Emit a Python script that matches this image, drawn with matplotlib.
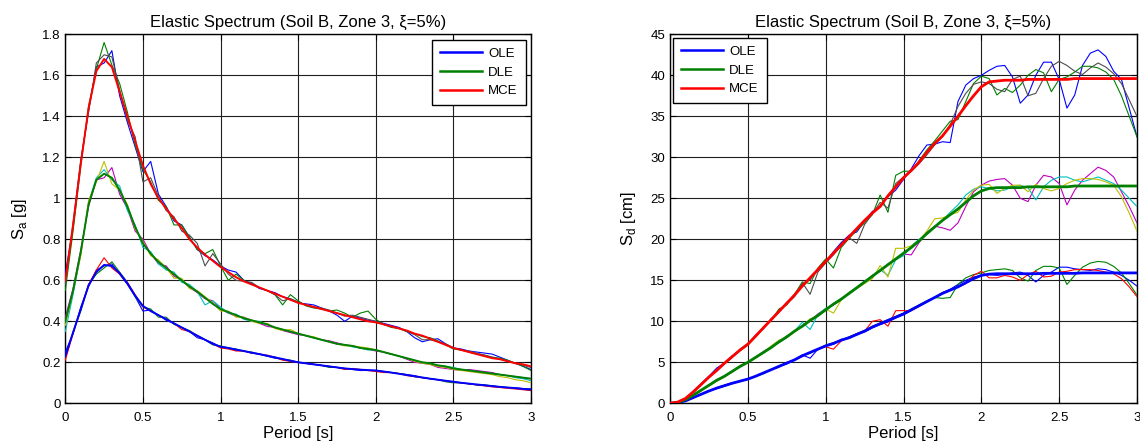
import numpy as np
import matplotlib
matplotlib.use("Agg")
import matplotlib.pyplot as plt
from matplotlib.ticker import FuncFormatter
from matplotlib.lines import Line2D

plt.rcParams['font.family'] = ['Liberation Sans', 'DejaVu Sans']

# ---------------- data ----------------
period = np.linspace(0.0, 3.0, 61)

# Spectral acceleration Sa [g] - target spectra
sa_ole = [0.23,0.345,0.46,0.575,0.64,0.675,0.67,0.635,0.585,0.525,
          0.475,0.45,0.43,0.41,0.39,0.37,0.35,0.33,0.31,0.29,
          0.276,0.27,0.262,0.255,0.247,0.24,0.232,0.224,0.216,0.208,
          0.20,0.195,0.19,0.185,0.18,0.175,0.17,0.167,0.164,0.162,
          0.16,0.155,0.15,0.144,0.138,0.132,0.126,0.12,0.115,0.11,
          0.105,0.10,0.096,0.092,0.088,0.084,0.08,0.077,0.074,0.07,
          0.067]
sa_dle = [0.40,0.55,0.74,0.97,1.09,1.12,1.10,1.04,0.96,0.86,
          0.78,0.73,0.69,0.66,0.63,0.60,0.57,0.545,0.515,0.485,
          0.46,0.445,0.43,0.415,0.405,0.395,0.385,0.37,0.36,0.35,
          0.34,0.33,0.32,0.31,0.30,0.29,0.285,0.28,0.27,0.265,
          0.26,0.25,0.24,0.23,0.22,0.21,0.20,0.195,0.185,0.18,
          0.17,0.165,0.16,0.155,0.15,0.145,0.14,0.135,0.13,0.125,
          0.12]
sa_mce = [0.60,0.87,1.17,1.44,1.62,1.68,1.64,1.52,1.40,1.28,
          1.16,1.07,1.00,0.95,0.90,0.855,0.80,0.76,0.725,0.695,
          0.665,0.64,0.615,0.595,0.58,0.565,0.55,0.535,0.52,0.505,
          0.49,0.48,0.47,0.46,0.45,0.44,0.43,0.42,0.41,0.40,
          0.395,0.385,0.375,0.365,0.355,0.34,0.33,0.315,0.30,0.285,
          0.27,0.26,0.25,0.24,0.23,0.22,0.215,0.205,0.195,0.19,
          0.18]

# Sa records - MCE level
sa_mce_rec1 = [0.63,0.86,1.18,1.43,1.64,1.66,1.72,1.50,1.37,1.25,
               1.13,1.18,1.02,0.96,0.89,0.87,0.81,0.75,0.72,0.70,
               0.67,0.65,0.64,0.60,0.585,0.56,0.55,0.54,0.52,0.51,
               0.49,0.485,0.48,0.465,0.45,0.43,0.40,0.425,0.415,0.405,
               0.40,0.39,0.38,0.37,0.35,0.32,0.30,0.31,0.315,0.29,
               0.27,0.265,0.255,0.25,0.245,0.24,0.225,0.21,0.195,0.18,
               0.165]
sa_mce_rec2 = [0.55,0.84,1.16,1.45,1.63,1.76,1.65,1.56,1.42,1.26,
               1.14,1.08,0.99,0.96,0.87,0.87,0.81,0.75,0.73,0.75,
               0.67,0.60,0.63,0.60,0.58,0.565,0.55,0.53,0.48,0.53,
               0.50,0.475,0.465,0.46,0.45,0.455,0.44,0.42,0.44,0.45,
               0.41,0.385,0.37,0.365,0.35,0.34,0.325,0.32,0.305,0.285,
               0.265,0.26,0.25,0.24,0.235,0.225,0.22,0.21,0.195,0.18,
               0.16]
sa_mce_rec3 = [0.58,0.88,1.19,1.42,1.66,1.70,1.69,1.53,1.38,1.30,
               1.08,1.10,1.01,0.94,0.91,0.84,0.82,0.78,0.67,0.73,
               0.68,0.63,0.60,0.595,0.59,0.565,0.55,0.53,0.50,0.51,
               0.495,0.48,0.47,0.465,0.455,0.44,0.425,0.43,0.42,0.41,
               0.40,0.385,0.375,0.365,0.35,0.335,0.31,0.31,0.30,0.29,
               0.27,0.26,0.255,0.245,0.235,0.225,0.215,0.205,0.195,0.185,
               0.175]
# Sa records - DLE level
sa_dle_rec1 = [0.42,0.56,0.75,0.96,1.09,1.10,1.15,1.02,0.95,0.84,
               0.80,0.73,0.68,0.67,0.62,0.60,0.565,0.54,0.51,0.50,
               0.46,0.44,0.425,0.42,0.405,0.39,0.375,0.37,0.355,0.345,
               0.335,0.33,0.32,0.31,0.305,0.295,0.285,0.28,0.27,0.265,
               0.255,0.25,0.24,0.23,0.215,0.20,0.195,0.19,0.175,0.17,
               0.165,0.16,0.165,0.16,0.155,0.15,0.14,0.135,0.13,0.125,
               0.12]
sa_dle_rec2 = [0.35,0.53,0.73,0.98,1.10,1.14,1.09,1.06,0.94,0.87,
               0.76,0.74,0.68,0.65,0.64,0.59,0.58,0.545,0.48,0.50,
               0.47,0.44,0.435,0.41,0.40,0.40,0.385,0.37,0.36,0.35,
               0.34,0.33,0.32,0.31,0.30,0.29,0.285,0.275,0.27,0.26,
               0.26,0.25,0.24,0.23,0.22,0.21,0.195,0.195,0.185,0.18,
               0.175,0.165,0.16,0.155,0.15,0.145,0.14,0.135,0.125,0.12,
               0.11]
sa_dle_rec3 = [0.38,0.55,0.72,0.99,1.08,1.18,1.07,1.04,0.97,0.85,
               0.79,0.72,0.70,0.66,0.61,0.61,0.56,0.55,0.52,0.49,
               0.45,0.45,0.42,0.42,0.40,0.39,0.39,0.365,0.355,0.36,
               0.34,0.33,0.325,0.31,0.30,0.29,0.28,0.28,0.275,0.27,
               0.26,0.25,0.24,0.23,0.22,0.205,0.195,0.19,0.18,0.175,
               0.165,0.16,0.155,0.15,0.145,0.14,0.13,0.125,0.115,0.11,
               0.10]
# Sa records - OLE level
sa_ole_rec1 = [0.25,0.34,0.47,0.57,0.65,0.67,0.68,0.63,0.58,0.52,
               0.45,0.455,0.43,0.405,0.39,0.37,0.35,0.32,0.31,0.295,
               0.275,0.27,0.26,0.255,0.245,0.24,0.23,0.22,0.215,0.205,
               0.20,0.195,0.19,0.185,0.18,0.175,0.17,0.165,0.16,0.16,
               0.16,0.155,0.15,0.145,0.14,0.135,0.125,0.12,0.115,0.11,
               0.105,0.10,0.095,0.09,0.088,0.085,0.08,0.077,0.075,0.072,
               0.07]
sa_ole_rec2 = [0.22,0.35,0.45,0.58,0.63,0.66,0.69,0.64,0.59,0.52,
               0.47,0.46,0.42,0.42,0.385,0.37,0.355,0.33,0.31,0.285,
               0.28,0.27,0.265,0.255,0.25,0.24,0.23,0.225,0.215,0.21,
               0.20,0.195,0.19,0.185,0.175,0.175,0.17,0.165,0.165,0.16,
               0.16,0.155,0.15,0.145,0.14,0.13,0.125,0.12,0.115,0.105,
               0.10,0.10,0.095,0.09,0.09,0.085,0.08,0.077,0.074,0.07,
               0.068]
sa_ole_rec3 = [0.21,0.34,0.46,0.58,0.65,0.71,0.66,0.63,0.59,0.53,
               0.47,0.45,0.43,0.41,0.39,0.36,0.35,0.33,0.31,0.29,
               0.27,0.265,0.255,0.255,0.245,0.24,0.235,0.225,0.21,0.205,
               0.20,0.195,0.19,0.185,0.18,0.175,0.165,0.17,0.165,0.16,
               0.155,0.15,0.15,0.145,0.135,0.13,0.125,0.12,0.115,0.11,
               0.105,0.10,0.095,0.09,0.085,0.08,0.077,0.073,0.07,0.066,
               0.062]

# Spectral displacement Sd [cm] - target spectra
sd_ole = [0.0,0.05,0.3,0.7,1.1,1.5,1.85,2.15,2.45,2.7,
          2.95,3.3,3.7,4.1,4.5,4.9,5.3,5.8,6.2,6.6,
          7.0,7.3,7.7,8.0,8.4,8.8,9.3,9.7,10.1,10.5,
          10.9,11.4,11.9,12.4,12.9,13.4,13.8,14.2,14.7,15.2,
          15.6,15.75,15.8,15.8,15.8,15.8,15.8,15.8,15.85,15.85,
          15.85,15.85,15.85,15.9,15.9,15.9,15.9,15.9,15.9,15.9,
          15.9]
sd_dle = [0.0,0.1,0.45,1.0,1.6,2.2,2.8,3.3,3.9,4.5,
          5.0,5.6,6.2,6.8,7.5,8.1,8.8,9.4,10.1,10.7,
          11.4,12.1,12.7,13.4,14.1,14.8,15.5,16.2,16.9,17.6,
          18.3,19.0,19.8,20.7,21.5,22.3,23.0,23.7,24.5,25.3,
          25.9,26.2,26.3,26.3,26.3,26.3,26.4,26.4,26.4,26.4,
          26.4,26.4,26.5,26.5,26.5,26.5,26.5,26.5,26.5,26.5,
          26.5]
sd_mce = [0.0,0.15,0.6,1.4,2.3,3.2,4.0,4.9,5.7,6.5,
          7.2,8.2,9.2,10.2,11.2,12.2,13.2,14.3,15.3,16.3,
          17.3,18.3,19.3,20.3,21.3,22.3,23.2,24.0,25.3,26.4,
          27.5,28.4,29.4,30.6,31.7,32.6,33.8,35.0,36.3,37.5,
          38.6,39.2,39.3,39.4,39.4,39.4,39.5,39.5,39.5,39.5,
          39.5,39.5,39.6,39.6,39.6,39.6,39.6,39.6,39.6,39.6,
          39.6]

# Sd records - MCE level
sd_mce_rec1 = [0.0,0.15,0.6,1.5,2.4,3.3,4.3,4.9,5.8,6.5,
               7.2,8.3,9.1,10.3,11.1,12.3,13.1,14.5,15.1,16.4,
               17.2,18.5,19.6,20.5,20.9,22.2,23.4,24.0,25.2,26.0,
               27.3,28.6,30.2,31.5,31.6,31.9,31.8,36.8,38.8,39.6,
               40.0,40.6,41.1,41.2,39.8,36.6,37.6,40.0,41.6,41.6,
               39.5,36.0,37.6,41.2,42.7,43.1,42.3,40.5,39.5,36.0,
               32.5]
sd_mce_rec2 = [0.0,0.1,0.6,1.4,2.3,3.2,4.1,4.8,5.6,6.6,
               7.3,8.1,9.3,10.1,11.5,12.0,13.3,14.8,14.6,16.5,
               17.6,16.5,19.0,20.1,21.1,22.0,23.0,25.4,23.3,27.8,
               28.3,28.3,29.6,30.9,32.0,33.2,34.4,34.6,36.8,39.0,
               39.9,39.6,37.6,38.4,37.9,38.8,40.0,40.7,40.3,38.0,
               39.5,39.8,40.4,41.1,41.1,40.9,40.4,39.5,37.5,35.0,
               32.5]
sd_mce_rec3 = [0.0,0.1,0.5,1.3,2.2,3.1,4.0,4.8,5.6,6.4,
               7.1,8.1,9.2,10.2,11.3,12.1,13.0,14.7,13.3,16.0,
               17.1,18.1,19.2,20.2,19.5,21.8,23.1,24.5,23.8,26.8,
               27.6,28.3,29.2,30.3,31.5,32.5,34.0,36.2,37.8,38.9,
               39.2,39.0,38.3,38.0,39.5,39.9,37.5,37.8,39.6,41.1,
               41.7,41.2,40.5,40.1,40.9,41.5,41.0,40.2,39.0,37.0,
               35.0]
# Sd records - DLE level
sd_dle_rec1 = [0.0,0.1,0.5,1.0,1.6,2.2,2.9,3.3,3.8,4.5,
               5.0,5.6,6.3,6.9,7.4,8.2,8.7,9.5,10.0,10.9,
               11.5,12.0,12.6,13.5,14.0,14.7,15.6,16.1,17.0,17.5,
               18.2,18.1,19.6,20.8,21.6,21.4,21.1,22.0,24.0,25.8,
               26.6,27.1,27.3,27.4,26.6,25.0,24.6,26.6,27.8,27.6,
               26.8,24.2,26.0,27.2,28.0,28.8,28.4,27.6,25.8,24.0,
               22.0]
sd_dle_rec2 = [0.0,0.1,0.4,1.0,1.6,2.2,2.8,3.3,3.9,4.4,
               5.0,5.6,6.1,6.9,7.4,8.0,8.8,9.9,9.0,10.8,
               11.6,12.0,12.8,13.3,14.0,14.9,15.4,16.3,15.6,17.5,
               18.0,19.2,20.0,20.6,21.5,22.3,23.3,24.2,25.4,26.1,
               26.4,26.2,25.9,26.0,26.4,26.6,26.3,24.8,26.4,27.2,
               27.6,27.6,27.2,27.0,27.3,27.6,27.2,26.8,26.0,25.0,
               24.0]
sd_dle_rec3 = [0.0,0.05,0.4,0.9,1.5,2.1,2.7,3.2,3.9,4.6,
               5.0,5.5,6.2,7.0,7.7,8.0,8.7,9.4,10.3,10.6,
               11.5,11.0,12.6,13.5,14.0,14.6,15.2,16.8,15.4,18.9,
               18.9,19.2,19.8,21.0,22.5,22.6,23.0,23.3,24.8,26.0,
               26.6,26.7,25.6,26.2,26.6,26.6,25.8,26.7,26.2,25.9,
               26.2,26.8,27.2,27.4,27.4,27.3,27.0,26.6,25.2,23.2,
               21.0]
# Sd records - OLE level
sd_ole_rec1 = [0.0,0.05,0.3,0.7,1.1,1.5,1.9,2.2,2.5,2.7,
               3.0,3.3,3.7,4.1,4.5,4.8,5.3,5.9,5.5,6.6,
               7.0,7.2,7.8,7.9,8.4,8.7,9.2,9.6,9.9,10.4,
               10.8,11.3,11.9,12.4,12.9,13.5,13.9,14.5,15.0,15.4,
               15.6,15.7,15.6,15.7,15.9,16.0,15.6,14.8,15.6,16.0,
               16.6,16.6,16.4,16.3,16.2,16.4,16.3,16.0,15.6,15.0,
               14.3]
sd_ole_rec2 = [0.0,0.05,0.3,0.7,1.1,1.5,1.8,2.1,2.4,2.7,
               3.0,3.3,3.6,4.1,4.6,4.9,5.3,5.8,6.1,6.6,
               7.1,7.4,7.7,8.1,8.5,8.9,9.4,9.8,10.2,10.6,
               11.0,11.5,12.0,12.5,12.9,12.8,12.9,14.5,15.3,15.7,
               15.9,16.2,16.3,16.4,16.2,15.3,14.9,16.2,16.7,16.7,
               16.5,14.5,15.6,16.6,17.1,17.3,17.2,16.7,15.9,14.6,
               13.2]
sd_ole_rec3 = [0.0,0.05,0.3,0.7,1.1,1.5,1.8,2.2,2.4,2.7,
               2.9,3.3,3.7,4.1,4.4,5.0,5.3,5.7,6.2,6.6,
               6.9,6.6,7.6,8.0,8.5,8.8,10.0,10.2,9.4,11.3,
               11.3,11.3,11.8,12.4,12.9,13.5,13.8,14.2,14.6,15.6,
               16.1,15.3,15.3,15.6,15.4,15.0,15.7,16.1,15.4,15.5,
               16.0,16.1,16.3,16.3,16.3,16.2,16.0,15.8,15.2,14.2,
               13.0]

level_names = ['OLE', 'DLE', 'MCE']
title_text = 'Elastic Spectrum (Soil B, Zone 3, \u03be=5%)'

# ---------------- styles ----------------
C_BLUE = (0, 0, 1)
C_GREEN = (0, 0.5, 0)
C_RED = (1, 0, 0)
C_CYAN = (0, 0.75, 0.75)
C_MAG = (0.75, 0, 0.75)
C_YEL = (0.75, 0.75, 0)
C_GRAY = (0.3, 0.3, 0.3)

target_colors = [C_BLUE, C_GREEN, C_RED]
record_colors = {
    'MCE': [C_BLUE, C_GREEN, C_GRAY],
    'DLE': [C_MAG, C_CYAN, C_YEL],
    'OLE': [C_BLUE, C_GREEN, C_RED],
}

fig = plt.figure(figsize=(11.4, 4.48), dpi=100)
ax1 = fig.add_axes([65.3/1140, 44.7/448, 465.7/1140, 369/448])
ax2 = fig.add_axes([670/1140, 44.7/448, 467/1140, 369/448])

fmt = FuncFormatter(lambda v, p: ('%g' % round(v, 6)))


def draw(ax, targets, records, ylim, yticks, ylabel, legend_loc, bpad, tlw):
    # records (thin)
    for name in ['MCE', 'DLE', 'OLE']:
        for rec, col in zip(records[name], record_colors[name]):
            ax.plot(period, rec, color=col, lw=0.8, zorder=3)
    # target spectra (thick)
    for name, tgt, col in zip(level_names, targets, target_colors):
        ax.plot(period, tgt, color=col, lw=tlw, zorder=4)
    ax.set_xlim(0, 3)
    ax.set_ylim(*ylim)
    ax.set_xticks([0, 0.5, 1, 1.5, 2, 2.5, 3])
    ax.set_yticks(yticks)
    ax.xaxis.set_major_formatter(fmt)
    ax.yaxis.set_major_formatter(fmt)
    ax.grid(True, color=(0.12, 0.12, 0.12), lw=0.8, ls='-', zorder=0)
    ax.set_axisbelow(True)
    ax.tick_params(direction='in', length=4, width=0.8, top=True, right=True,
                   labelsize=9.5)
    ax.tick_params(axis='x', pad=6)
    ax.tick_params(axis='y', pad=3.5)
    for s in ax.spines.values():
        s.set_linewidth(1.0)
        s.set_color('k')
    ax.set_title(title_text, fontsize=12, pad=5.5)
    ax.set_xlabel('Period [s]', fontsize=12, labelpad=2)
    ax.set_ylabel(ylabel, fontsize=12, labelpad=9)
    handles = [Line2D([], [], color=c, lw=1.8) for c in target_colors]
    leg = ax.legend(handles, level_names, loc=legend_loc, fontsize=9.5,
                    handlelength=3.15, fancybox=False, framealpha=1,
                    edgecolor='k', borderaxespad=bpad, labelspacing=0.5,
                    borderpad=0.6, handletextpad=0.5)
    leg.get_frame().set_linewidth(1.0)
    leg.set_zorder(10)


draw(ax1, [sa_ole, sa_dle, sa_mce],
     {'MCE': [sa_mce_rec1, sa_mce_rec2, sa_mce_rec3],
      'DLE': [sa_dle_rec1, sa_dle_rec2, sa_dle_rec3],
      'OLE': [sa_ole_rec1, sa_ole_rec2, sa_ole_rec3]},
     (0, 1.8), np.arange(0, 1.81, 0.2), r'S$_\mathregular{a}$ [g]', 'upper right', 0.4, 1.4)
draw(ax2, [sd_ole, sd_dle, sd_mce],
     {'MCE': [sd_mce_rec1, sd_mce_rec2, sd_mce_rec3],
      'DLE': [sd_dle_rec1, sd_dle_rec2, sd_dle_rec3],
      'OLE': [sd_ole_rec1, sd_ole_rec2, sd_ole_rec3]},
     (0, 45), np.arange(0, 46, 5), r'S$_\mathregular{d}$ [cm]', 'upper left', 0.25, 2.0)

fig.savefig('out.png', dpi=100)
